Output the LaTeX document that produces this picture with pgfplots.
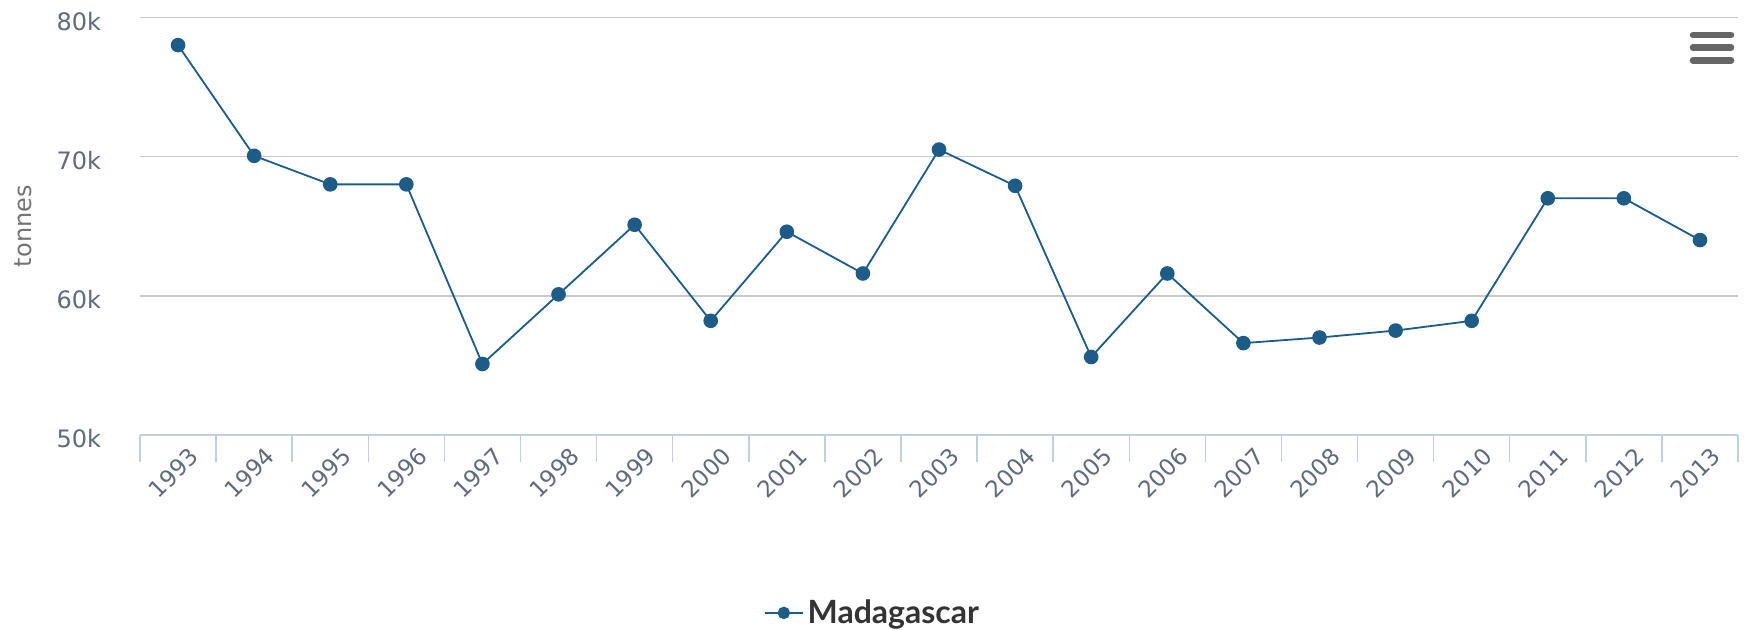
\documentclass[border=0pt]{standalone}
\usepackage{fontspec}
\setmainfont{DejaVu Sans}
\newfontfamily\legfont{Lato}
\usepackage{pgfplots}
\pgfplotsset{compat=1.18}
\definecolor{serie}{HTML}{1D5C87}
\definecolor{gridc}{HTML}{C8C8C8}
\definecolor{axisc}{HTML}{C0D0E0}
\definecolor{tickc}{HTML}{5F6B7A}
\begin{document}
\begin{tikzpicture}
  % page: 1744 x 630 px at 0.5pt per px
  \path[use as bounding box] (0pt,0pt) rectangle (872pt,315pt);
  \begin{axis}[
    at={(70pt,97.5pt)}, anchor=south west,
    scale only axis,
    width=799pt, height=208.85pt,
    xmin=-0.5, xmax=20.5,
    ymin=50000, ymax=80000,
    scaled y ticks=false,
    axis x line*=bottom,
    axis y line*=left,
    x axis line style={draw=axisc, line width=0.75pt},
    y axis line style={draw=none},
    xtick={0,...,20},
    xticklabels={1993,1994,1995,1996,1997,1998,1999,2000,2001,2002,2003,2004,2005,2006,2007,2008,2009,2010,2011,2012,2013},
    major x tick style={draw=none},
    minor xtick={-0.5,0.5,...,20.5},
    minor x tick style={draw=axisc, line width=0.75pt},
    minor tick length=13.5pt,
    xtick pos=bottom,
    tick align=outside,
    xticklabel style={rotate=45, anchor=east, inner sep=0pt, xshift=2.9pt, yshift=-8.8pt,
      font=\fontsize{11.5}{13}\selectfont, text=tickc},
    ytick={50000,60000,70000,80000},
    yticklabels={50k,60k,70k,80k},
    ytick style={draw=none},
    yticklabel style={anchor=east, inner sep=0pt, xshift=-15pt, yshift=-2pt,
      font=\fontsize{12}{14}\selectfont, text=tickc},
    ymajorgrids,
    grid style={draw=gridc, line width=0.75pt},
    ylabel={tonnes},
    ylabel style={at={(rel axis cs:0,0.5)}, anchor=center, yshift=58.5pt,
      font=\fontsize{12}{14}\selectfont, text=black!55},
    legend style={at={(0.459,-0.426)}, anchor=center, draw=none, fill=none,
      font=\legfont\bfseries\fontsize{16}{18}\selectfont, text=black!80,
      inner sep=0pt},
    legend image code/.code={
      \draw[mark repeat=2, mark phase=2, #1, line width=0.8pt, mark size=2.7pt]
        plot coordinates {(0pt,0pt) (9.5pt,0pt) (19pt,0pt)};
    },
    clip=false,
  ]
    \addplot[color=serie, line width=0.9pt, mark=*, mark size=3.2pt,
      mark options={fill=serie, draw=serie}] coordinates {
      (0, 78000) (1, 70050) (2, 68000) (3, 68000) (4, 55100)
      (5, 60100) (6, 65100) (7, 58200) (8, 64600) (9, 61600)
      (10, 70500) (11, 67900) (12, 55600) (13, 61600) (14, 56600)
      (15, 57000) (16, 57500) (17, 58200) (18, 67000) (19, 67000)
      (20, 64000)
    };
    \legend{Madagascar}
  \end{axis}
  % menu icon
  \foreach \yy in {297.5,291.2,284.7}
    \draw[line width=3.3pt, line cap=round, color=black!60] (846.5pt,\yy pt) -- (865.5pt,\yy pt);
\end{tikzpicture}
\end{document}
